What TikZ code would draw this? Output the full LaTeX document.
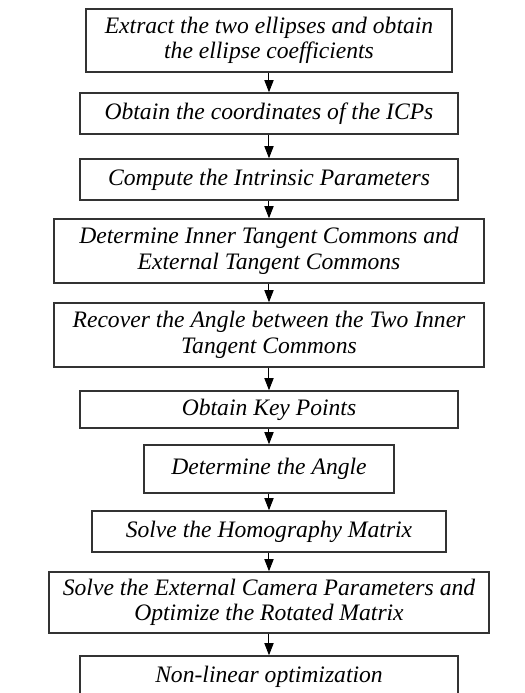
\documentclass[tikz,border=0pt]{standalone}
\usepackage{fontspec}
\setmainfont{Liberation Serif}
\usetikzlibrary{positioning,arrows.meta}
\tikzset{
  flowarrow/.style={-{Triangle[length=6pt, width=4.6pt]}, line width=0.5pt},
  stepbox/.style={draw=black!80, line width=0.8pt, minimum height=20.5pt, align=center, inner sep=1pt, font=\fontsize{11.8}{12.8}\selectfont\itshape}
}

\begin{document}
\begin{tikzpicture}[x=0.5pt, y=-0.5pt]
  \useasboundingbox (0,0) rectangle (525,693);
  \node[stepbox, minimum width=183pt, minimum height=31.5pt] (ellipses) at (269,40.5) {Extract the two ellipses and obtain\\the ellipse coefficients};
  \node[stepbox, minimum width=189pt] (icps) at (269,113.5) {Obtain the coordinates of the ICPs};
  \node[stepbox, minimum width=189pt] (intrinsic) at (269,179.5) {Compute the Intrinsic Parameters};
  \node[stepbox, minimum width=215pt, minimum height=32pt] (tangents) at (269,251) {Determine Inner Tangent Commons and\\External Tangent Commons};
  \node[stepbox, minimum width=215pt, minimum height=32pt] (recover) at (269,335) {Recover the Angle between the Two Inner\\Tangent Commons};
  \node[stepbox, minimum width=189pt, minimum height=18.5pt] (keypts) at (269,409.5) {Obtain Key Points};
  \node[stepbox, minimum width=125pt, minimum height=24pt] (angle) at (269,469) {Determine the Angle};
  \node[stepbox, minimum width=177pt] (homog) at (269,531.5) {Solve the Homography Matrix};
  \node[stepbox, minimum width=220pt, minimum height=30.5pt] (extrinsic) at (269,602.5) {Solve the External Camera Parameters and\\Optimize the Rotated Matrix};
  \node[stepbox, minimum width=189pt] (nonlin) at (269,676.5) {Non-linear optimization};
  \draw[flowarrow] (ellipses.south) -- (icps.north);
  \draw[flowarrow] (icps.south) -- (intrinsic.north);
  \draw[flowarrow] (intrinsic.south) -- (tangents.north);
  \draw[flowarrow] (tangents.south) -- (recover.north);
  \draw[flowarrow] (recover.south) -- (keypts.north);
  \draw[flowarrow] (keypts.south) -- (angle.north);
  \draw[flowarrow] (angle.south) -- (homog.north);
  \draw[flowarrow] (homog.south) -- (extrinsic.north);
  \draw[flowarrow] (extrinsic.south) -- (nonlin.north);
\end{tikzpicture}
\end{document}
